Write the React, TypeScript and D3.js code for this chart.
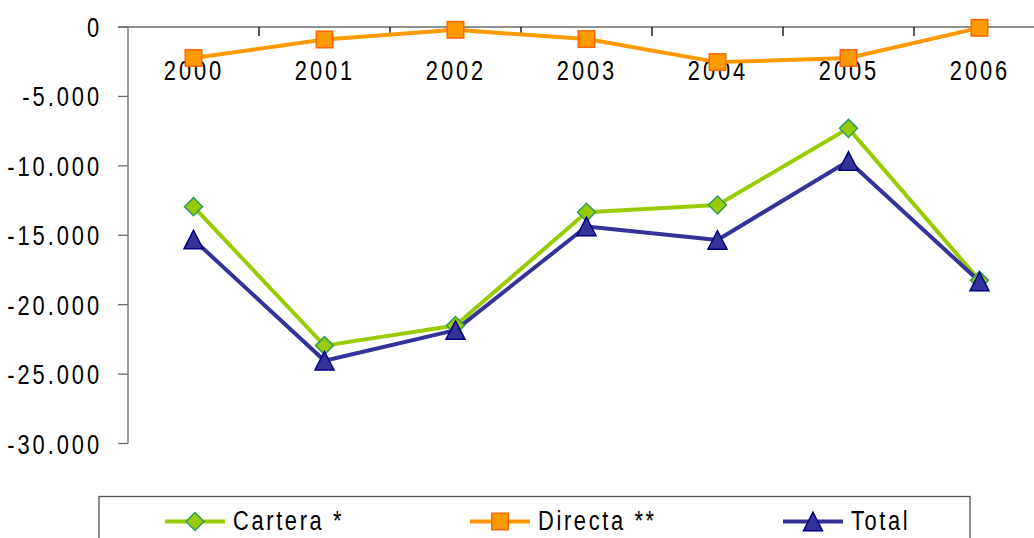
import React from "react";
import * as d3 from "d3";

const years = ["2000", "2001", "2002", "2003", "2004", "2005", "2006"];
const cartera = [-12940, -22950, -21500, -13350, -12820, -7300, -18250];
const directa = [-2230, -900, -200, -870, -2530, -2230, -60];
const total = [-15310, -24040, -21830, -14370, -15340, -9650, -18330];
const yTicks = [0, -5000, -10000, -15000, -20000, -25000, -30000];
const legendLabels = ["Cartera *", "Directa **", "Total"];

if (typeof document !== "undefined") document.body.style.margin = "0";

const W = 1034;
const H = 538;
const FONT = "'Liberation Sans', Arial, sans-serif";
const SQUEEZE = 0.78;

const GREEN = "#99CC00";
const GREEN_EDGE = "#339966";
const ORANGE = "#FF9900";
const ORANGE_EDGE = "#FF6600";
const BLUE = "#333399";
const BLUE_EDGE = "#000080";

function NText({
  x,
  y,
  anchor = "start",
  spacing = 3.8,
  children,
}: {
  x: number;
  y: number;
  anchor?: string;
  spacing?: number;
  children: React.ReactNode;
}) {
  return (
    <text
      transform={`translate(${x},${y}) scale(${SQUEEZE},1)`}
      textAnchor={anchor}
      fontSize={28}
      letterSpacing={spacing}
      fill="#000"
    >
      {children}
    </text>
  );
}

function Marker({ kind, x, y }: { kind: string; x: number; y: number }) {
  if (kind === "diamond") {
    const r = 9;
    return (
      <path
        d={`M${x},${y - r}L${x + r},${y}L${x},${y + r}L${x - r},${y}Z`}
        fill={GREEN}
        stroke={GREEN_EDGE}
        strokeWidth={1.5}
      />
    );
  }
  if (kind === "square") {
    const s = 16.5;
    return (
      <rect x={x - s / 2} y={y - s / 2} width={s} height={s} fill={ORANGE} stroke={ORANGE_EDGE} strokeWidth={1.5} />
    );
  }
  const hw = 9.5;
  const h = 18.5;
  return (
    <path
      d={`M${x},${y - h / 2}L${x + hw},${y + h / 2}L${x - hw},${y + h / 2}Z`}
      fill={BLUE}
      stroke={BLUE_EDGE}
      strokeWidth={1.5}
    />
  );
}

export default function App() {
  const x = d3.scaleBand<string>().domain(years).range([128, 1045]);
  const y = d3.scaleLinear().domain([-30000, 0]).range([443.5, 27]);
  const cx = (d: string) => (x(d) as number) + x.bandwidth() / 2;
  const fmt = (v: number) =>
    v === 0 ? "0" : d3.format(",")(v).replace(/,/g, ".").replace(/\u2212/g, "-");

  const series = [
    { name: legendLabels[0], values: cartera, color: GREEN, marker: "diamond" },
    { name: legendLabels[1], values: directa, color: ORANGE, marker: "square" },
    { name: legendLabels[2], values: total, color: BLUE, marker: "triangle" },
  ];
  const line = d3
    .line<number>()
    .x((_, i) => cx(years[i]))
    .y((v) => y(v));

  const legendX = [195, 500, 813];
  const legendY = 521.5;

  return (
    <svg width={W} height={H} style={{ display: "block", background: "#fff" }} fontFamily={FONT}>
      {/* y axis */}
      <line x1={128} x2={128} y1={y(0)} y2={y(-30000)} stroke="#6b6b6b" strokeWidth={1.3} />
      {yTicks.map((t) => (
        <g key={t}>
          <line x1={118} x2={128} y1={y(t)} y2={y(t)} stroke="#6b6b6b" strokeWidth={1.3} />
          <NText x={102} y={y(t) + 10} anchor="end">
            {fmt(t)}
          </NText>
        </g>
      ))}
      {/* x axis at zero */}
      <line x1={118} x2={W} y1={y(0)} y2={y(0)} stroke="#6b6b6b" strokeWidth={1.3} />
      {years.slice(1).map((yr) => (
        <line key={yr} x1={x(yr)} x2={x(yr)} y1={y(0)} y2={y(0) + 9} stroke="#000" strokeWidth={1.3} />
      ))}
      {years.map((yr) => (
        <NText key={yr} x={cx(yr) + 0.5} y={80} anchor="middle">
          {yr}
        </NText>
      ))}
      {/* series lines */}
      {series.map((s) => (
        <path key={s.name} d={line(s.values) || ""} fill="none" stroke={s.color} strokeWidth={4} strokeLinejoin="round" />
      ))}
      {series.map((s) =>
        s.values.map((v, i) => <Marker key={s.name + i} kind={s.marker} x={cx(years[i])} y={y(v)} />)
      )}
      {/* legend */}
      <rect x={99} y={496.5} width={871} height={60} fill="#fff" stroke="#555" strokeWidth={1.3} />
      {series.map((s, i) => (
        <g key={s.name}>
          <line x1={legendX[i] - 30} x2={legendX[i] + 30} y1={legendY} y2={legendY} stroke={s.color} strokeWidth={4} />
          <Marker kind={s.marker} x={legendX[i]} y={legendY} />
          <NText x={legendX[i] + 38} y={530} spacing={3.4}>
            {s.name}
          </NText>
        </g>
      ))}
    </svg>
  );
}
